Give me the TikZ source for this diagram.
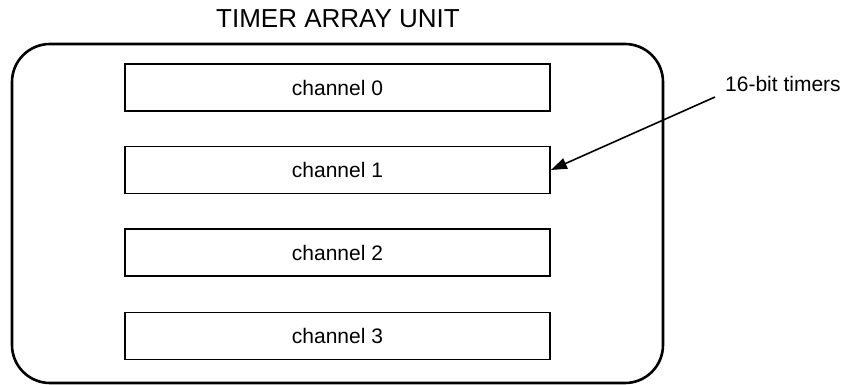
\documentclass[tikz,border=0pt]{standalone}
\usepackage{fontspec}
\setmainfont{Liberation Sans}
\usetikzlibrary{arrows.meta}
\begin{document}
\begin{tikzpicture}[x=1pt,y=-1pt,
  chanbox/.style={draw,line width=1.8pt,minimum width=425pt,minimum height=47pt,inner sep=0pt,font=\fontsize{21}{24}\selectfont},
  outerbox/.style={draw,line width=2.6pt,rounded corners=38pt,inner sep=0pt,minimum width=651pt,minimum height=339pt},
  lbl/.style={inner sep=0pt,font=\fontsize{21}{24}\selectfont},
  ttl/.style={inner sep=0pt,font=\fontsize{26}{30}\selectfont},
  pointer/.style={line width=1.6pt,-{Triangle[length=16pt,width=11pt]}}]
\useasboundingbox (0,0) rectangle (848,385);
\node[outerbox] (unit) at (337.5,213.5) {};
\node[ttl] (title) at (338,19) {TIMER ARRAY UNIT};
\node[chanbox] (c0) at (337.5,87.5) {channel 0};
\node[chanbox] (c1) at (337.5,170) {channel 1};
\node[chanbox] (c2) at (337.5,252.5) {channel 2};
\node[chanbox] (c3) at (337.5,336) {channel 3};
\node[lbl,anchor=west] (note) at (725,84) {16-bit timers};
\coordinate (start) at (715,97);
\draw[pointer] (start) -- (c1.east);
\end{tikzpicture}
\end{document}
